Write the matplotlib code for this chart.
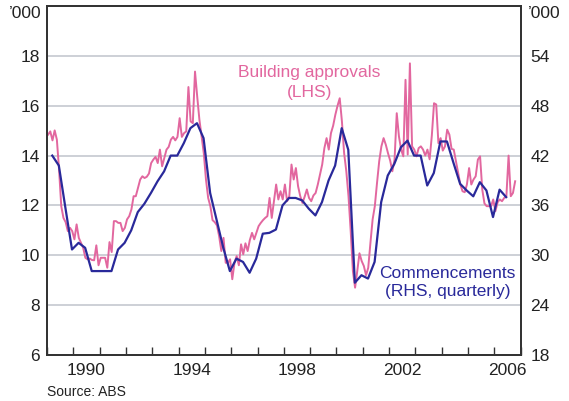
import matplotlib.pyplot as plt
import numpy as np

plt.rcParams['font.family'] = ['Liberation Sans', 'DejaVu Sans']

# building approvals, monthly from Jan 1989, '000 (LHS)
approvals = [14.84, 14.97, 14.61, 15.01, 14.64, 13.44, 11.97, 11.5, 11.33, 10.97,
             11.1, 10.97, 10.64, 11.24, 10.7, 10.5, 10.3, 9.9, 9.84, 9.87,
             9.81, 9.8, 10.4, 9.6, 9.9, 9.9, 9.9, 9.5, 10.53, 10.13,
             11.37, 11.37, 11.3, 11.3, 10.97, 11.1, 11.44, 11.57, 11.84, 12.37,
             12.37, 12.7, 13.04, 13.17, 13.1, 13.15, 13.28, 13.7, 13.84, 13.95,
             13.7, 14.24, 13.57, 13.9, 14.24, 14.35, 14.64, 14.75, 14.61, 14.75,
             15.5, 14.75, 14.9, 14.97, 16.75, 15.37, 15.3, 17.37, 16.37, 15.44,
             14.77, 14.1, 13.04, 12.3, 11.97, 11.41, 11.33, 11.2, 10.77, 10.17,
             10.7, 9.7, 9.7, 9.84, 9.04, 9.7, 9.97, 9.6, 10.44, 10.04,
             10.48, 10.17, 10.61, 10.9, 10.64, 10.9, 11.17, 11.3, 11.41, 11.5,
             11.57, 12.3, 11.5, 12.17, 12.84, 12.24, 12.57, 12.24, 12.84, 12.17,
             12.37, 13.64, 13.04, 13.5, 12.77, 12.37, 12.1, 12.35, 12.64, 12.3,
             12.17, 12.4, 12.5, 12.84, 13.24, 13.64, 14.3, 14.7, 14.24, 14.9,
             15.2, 15.64, 16.0, 16.3, 15.37, 14.1, 13.37, 12.37, 10.97, 9.37,
             8.7, 9.37, 10.08, 9.77, 9.57, 9.2, 9.5, 10.5, 11.44, 11.97,
             12.9, 13.77, 14.37, 14.7, 14.44, 14.1, 13.8, 13.37, 13.84, 15.7,
             14.77, 14.24, 13.97, 17.04, 14.04, 17.7, 14.37, 14.24, 13.97, 14.3,
             14.37, 14.24, 14.0, 14.24, 13.85, 14.8, 16.1, 16.05, 14.5, 14.7,
             14.2, 14.37, 15.04, 14.84, 14.27, 14.24, 13.77, 13.3, 12.84, 12.57,
             12.53, 12.84, 13.5, 12.84, 13.04, 13.17, 13.84, 13.97, 12.64, 12.08,
             11.97, 11.97, 11.97, 12.24, 11.77, 12.13, 12.24, 12.17, 12.3, 12.37,
             14.0, 12.37, 12.5, 12.97]

# commencements, quarterly, '000 (RHS)
commencements = [42.0, 40.8, 35.7, 30.7, 31.5, 30.9, 28.1, 28.1, 28.1, 28.1,
                 30.7, 31.5, 33.0, 35.2, 36.2, 37.5, 38.9, 40.1, 42.0, 42.0,
                 43.5, 45.3, 45.9, 44.1, 37.5, 34.2, 30.9, 28.1, 29.6, 29.2,
                 27.9, 29.6, 32.6, 32.7, 33.1, 36.0, 36.9, 36.9, 36.6, 35.6,
                 34.8, 36.4, 39.0, 40.8, 45.3, 42.7, 26.7, 27.6, 27.2, 29.2,
                 36.4, 39.6, 41.0, 43.0, 43.8, 42.0, 42.0, 38.4, 39.9, 43.7,
                 43.7, 41.1, 38.6, 37.8, 37.1, 38.8, 37.8, 34.6, 37.9, 37.0]

label_years = [1990, 1994, 1998, 2002, 2006]

pink = '#e2679f'
navy = '#29299a'

t_month = 1989 + (np.arange(len(approvals)) + 0.5) / 12
t_qtr = 1989.2 + 0.25 * np.arange(len(commencements))

fig, ax = plt.subplots(figsize=(5.69, 4.01), dpi=100)
fig.subplots_adjust(left=0.0826, right=0.915, bottom=0.1147, top=0.985)
ax2 = ax.twinx()

ax.plot(t_month, approvals, color=pink, lw=1.4)
ax2.plot(t_qtr, commencements, color=navy, lw=1.6)

ax.set_xlim(1989, 2007)
ax.set_ylim(6, 20)
ax2.set_ylim(18, 60)
ax.set_yticks(range(6, 20, 2))
ax2.set_yticks(range(18, 60, 6))
ax.grid(axis='y', color='#c9cdd3', lw=1.3)
ax.set_axisbelow(True)

ax.set_xticks(np.arange(1989, 2008))
ax.set_xticklabels([])
ax.set_xticks([y + 0.5 for y in label_years], minor=True)
ax.set_xticklabels([str(y) for y in label_years], minor=True)
ax.tick_params(axis='x', which='major', direction='in', length=6, width=1, color='#333333')
ax.tick_params(axis='x', which='minor', length=0, pad=6, labelsize=12.5, labelcolor='#222222')
ax.tick_params(axis='y', length=0, pad=5, labelsize=12.5, labelcolor='#222222')
ax2.tick_params(axis='y', length=0, pad=7, labelsize=12.5, labelcolor='#222222')

for a in (ax, ax2):
    for s in a.spines.values():
        s.set_color('#333333')
        s.set_linewidth(1.3)

ax.annotate('’000', xy=(0, 19.68), xycoords=('axes fraction', 'data'), xytext=(-5, 0),
            textcoords='offset pixels', ha='right', va='center', fontsize=12.5, color='#222222')
ax.annotate('’000', xy=(1, 19.68), xycoords=('axes fraction', 'data'), xytext=(7, 0),
            textcoords='offset pixels', ha='left', va='center', fontsize=12.5, color='#222222')

ax.text(1998.96, 17.32, 'Building approvals', color=pink, ha='center', va='center', fontsize=12.5)
ax.text(1998.96, 16.52, '(LHS)', color=pink, ha='center', va='center', fontsize=12.5)
ax.text(2004.23, 9.28, 'Commencements', color=navy, ha='center', va='center', fontsize=12.5)
ax.text(2004.23, 8.56, '(RHS, quarterly)', color=navy, ha='center', va='center', fontsize=12.5)

fig.text(47 / 569, 1 - 391.7 / 401, 'Source: ABS', fontsize=10, va='center', color='#222222')

fig.savefig('out.png', dpi=100)
